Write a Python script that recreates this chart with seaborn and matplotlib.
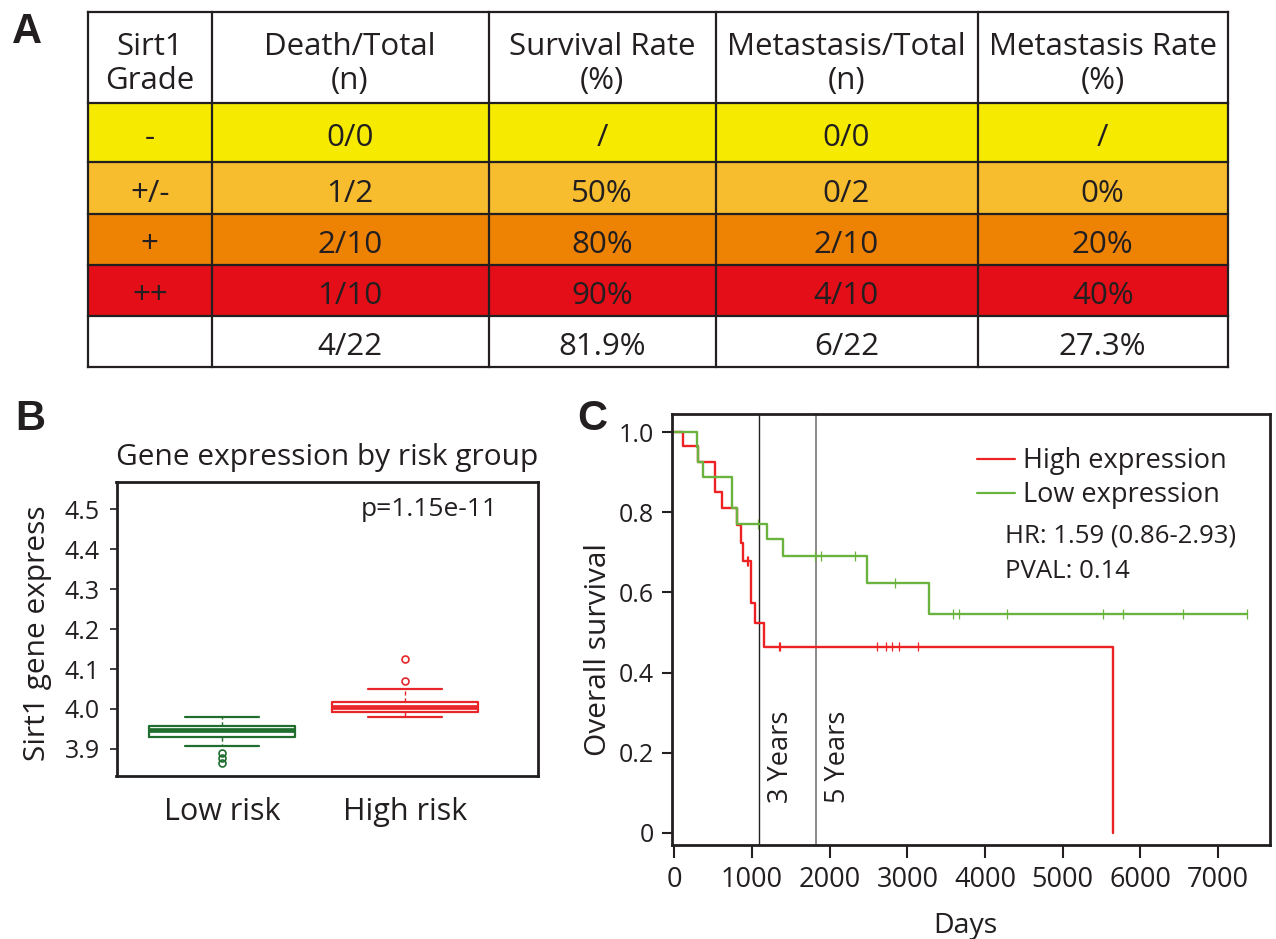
import numpy as np
import pandas as pd
import matplotlib
matplotlib.use("Agg")
import matplotlib.pyplot as plt
from matplotlib.patches import Rectangle
import seaborn as sns

# ---------------- Panel A: table data ----------------
header_line1 = ["Sirt1", "Death/Total", "Survival Rate", "Metastasis/Total", "Metastasis Rate"]
header_line2 = ["Grade", "(n)", "(%)", "(n)", "(%)"]
grade = ["-", "+/-", "+", "++", ""]
death_total = ["0/0", "1/2", "2/10", "1/10", "4/22"]
survival_rate = ["/", "50%", "80%", "90%", "81.9%"]
metastasis_total = ["0/0", "0/2", "2/10", "4/10", "6/22"]
metastasis_rate = ["/", "0%", "20%", "40%", "27.3%"]
row_colors = ["#f5ea00", "#f8bd2e", "#ee8203", "#e30e17", "#ffffff"]

# ---------------- Panel B: box plot summary ----------------
box_groups = ["Low risk", "High risk"]
box_q1 = [3.930, 3.992]
box_med = [3.947, 4.005]
box_q3 = [3.958, 4.018]
box_whislo = [3.908, 3.980]
box_whishi = [3.980, 4.050]
fliers_low_risk = [3.889, 3.877, 3.864]
fliers_high_risk = [4.070, 4.125]
box_colors = ["#1f6e2e", "#e8262a"]
p_text = "p=1.15e-11"

# ---------------- Panel C: Kaplan-Meier ----------------
high_times = [0, 108, 309, 524, 618, 803, 858, 880, 983, 1039, 1158, 5646]
high_surv = [1.0, 0.966, 0.926, 0.851, 0.812, 0.769, 0.723, 0.678, 0.573, 0.523, 0.465, 0.0]
low_times = [0, 292, 309, 373, 739, 803, 1189, 1403, 2476, 3282, 7367]
low_surv = [1.0, 0.963, 0.926, 0.888, 0.812, 0.772, 0.733, 0.692, 0.623, 0.546, 0.546]
high_censor = [930, 946, 1344, 1360, 2605, 2721, 2806, 2892, 3140]
low_censor = [1073, 1811, 1884, 2326, 2840, 3583, 3668, 4280, 5513, 5780, 6551, 7367]
km_labels = ["High expression", "Low expression"]
km_colors = ["#ee2222", "#6ab33e"]
year_marks = [1095, 1825]
year_labels = ["3 Years", "5 Years"]
hr_text = "HR: 1.59 (0.86-2.93)"
pval_text = "PVAL: 0.14"

# ---------------- style ----------------
sns.set_theme(style="white")
plt.rcParams["font.family"] = ["Open Sans", "DejaVu Sans"]
TXT = "#231f20"
plt.rcParams["text.color"] = TXT
plt.rcParams["axes.labelcolor"] = TXT
plt.rcParams["xtick.color"] = TXT
plt.rcParams["ytick.color"] = TXT

W, H = 1276, 939
fig = plt.figure(figsize=(W / 100, H / 100), dpi=100)

def ax_rect(left, top, right, bottom):
    return [left / W, 1 - bottom / H, (right - left) / W, (bottom - top) / H]

# ---------------- Panel B ----------------
axB = fig.add_axes(ax_rect(116.5, 482, 537.6, 775.7))
stats = []
fliers = [fliers_low_risk, fliers_high_risk]
for k in range(2):
    stats.append(dict(label=box_groups[k], q1=box_q1[k], med=box_med[k], q3=box_q3[k],
                      whislo=box_whislo[k], whishi=box_whishi[k], fliers=fliers[k]))
for k in range(2):
    c = box_colors[k]
    axB.bxp([stats[k]], positions=[k + 1], widths=0.8, showfliers=True,
            boxprops=dict(color=c, lw=1.6),
            medianprops=dict(color=c, lw=3.4),
            whiskerprops=dict(color=c, lw=1.0, linestyle=(0, (3, 2))),
            capprops=dict(color=c, lw=1.6),
            flierprops=dict(marker="o", markersize=5, markerfacecolor="none",
                            markeredgecolor=c, markeredgewidth=1.2))
# caps half of box width (R style)
for line in axB.lines:
    xd = line.get_xdata()
    if len(xd) == 2 and xd[0] != xd[1]:
        yd = line.get_ydata()
        if yd[0] in box_whislo or yd[0] in box_whishi:
            xm = (xd[0] + xd[1]) / 2
            line.set_xdata([xm - 0.2, xm + 0.2])
axB.set_xlim(0.4235, 2.725)
axB.set_ylim(3.833, 4.568)
axB.set_yticks([3.9, 4.0, 4.1, 4.2, 4.3, 4.4, 4.5])
axB.set_yticklabels(["3.9", "4.0", "4.1", "4.2", "4.3", "4.4", "4.5"])
axB.set_xticks([1, 2])
axB.set_xticklabels(box_groups)
axB.tick_params(axis="y", labelsize=18, length=5, width=1.2, pad=7, left=True, direction="out")
axB.tick_params(axis="x", labelsize=22, length=0, pad=15)
for s in axB.spines.values():
    s.set_color(TXT)
    s.set_linewidth(2)
axB.text(0.58, 0.905, p_text, transform=axB.transAxes, fontsize=19, ha="left", va="center")

# ---------------- Panel C ----------------
axC = fig.add_axes(ax_rect(672, 414, 1270, 845))
km = pd.concat([
    pd.DataFrame({"Days": high_times, "Survival": high_surv, "Group": km_labels[0]}),
    pd.DataFrame({"Days": low_times, "Survival": low_surv, "Group": km_labels[1]}),
])
sns.lineplot(data=km, x="Days", y="Survival", hue="Group", palette=km_colors,
             drawstyle="steps-post", estimator=None, sort=False, lw=1.7, ax=axC,
             legend=False)

def step_value(times, surv, t):
    idx = np.searchsorted(times, t, side="right") - 1
    return np.array(surv)[idx]

cens = pd.concat([
    pd.DataFrame({"Days": high_censor, "Survival": step_value(high_times, high_surv, high_censor),
                  "Group": km_labels[0]}),
    pd.DataFrame({"Days": low_censor, "Survival": step_value(low_times, low_surv, low_censor),
                  "Group": km_labels[1]}),
])
sns.scatterplot(data=cens, x="Days", y="Survival", hue="Group", palette=km_colors,
                marker="|", s=50, linewidth=0.9, ax=axC, legend=False)

axC.axvline(year_marks[0], color="#222222", lw=1.0, zorder=0.5)
axC.axvline(year_marks[1], color="#777777", lw=1.2, zorder=0.5)
axC.text(1370, 0.19, year_labels[0], rotation=90, fontsize=19.5, ha="center", va="center")
axC.text(2105, 0.19, year_labels[1], rotation=90, fontsize=19.5, ha="center", va="center")

axC.set_xlim(-30, 7667)
axC.set_ylim(-0.031, 1.046)
axC.set_xticks([0, 1000, 2000, 3000, 4000, 5000, 6000, 7000])
axC.set_yticks([0, 0.2, 0.4, 0.6, 0.8, 1.0])
axC.set_yticklabels(["0", "0.2", "0.4", "0.6", "0.8", "1.0"])
axC.tick_params(axis="y", labelsize=18, length=7, width=1.5, pad=6, left=True, direction="out")
axC.tick_params(axis="x", labelsize=19.5, length=9, width=1.5, pad=6, bottom=True, direction="out")
axC.set_xlabel("")
axC.set_ylabel("")
for s in axC.spines.values():
    s.set_color(TXT)
    s.set_linewidth(2)

# overlay axes in pixel coordinates for table, labels and legend
ov = fig.add_axes([0, 0, 1, 1])
ov.set_xlim(0, W)
ov.set_ylim(H, 0)
ov.axis("off")
ov.set_zorder(10)

for letter, (lx, ly) in zip(["A", "B", "C"], [(12, 43), (15, 430), (577, 430)]):
    ov.text(lx, ly, letter, fontsize=30, fontweight="bold", family="Liberation Sans",
            va="baseline", ha="left", color=TXT)

# ---- table
col_edges = [88, 211.5, 488.5, 715.5, 977.5, 1228]
row_edges = [12.3, 103.3, 162.3, 213.7, 265, 316, 366.7]
tfs = 22.5
for i, c in enumerate(row_colors):
    y0, y1 = row_edges[i + 1], row_edges[i + 2]
    ov.add_patch(Rectangle((col_edges[0], y0), col_edges[-1] - col_edges[0], y1 - y0,
                           facecolor=c, edgecolor="none", zorder=1))
for y in row_edges:
    ov.plot([col_edges[0], col_edges[-1]], [y, y], color=TXT, lw=1.6, zorder=3,
            solid_capstyle="projecting")
for x in col_edges:
    ov.plot([x, x], [row_edges[0], row_edges[-1]], color=TXT, lw=1.6, zorder=3,
            solid_capstyle="projecting")
centers_x = [(col_edges[j] + col_edges[j + 1]) / 2 for j in range(5)]
for j in range(5):
    ov.text(centers_x[j], 55, header_line1[j], fontsize=tfs, ha="center", va="baseline", zorder=4)
    ov.text(centers_x[j], 89, header_line2[j], fontsize=tfs, ha="center", va="baseline", zorder=4)
columns = [grade, death_total, survival_rate, metastasis_total, metastasis_rate]
for i in range(5):
    yc = (row_edges[i + 1] + row_edges[i + 2]) / 2
    for j in range(5):
        ov.text(centers_x[j], yc + 13.5, columns[j][i], fontsize=tfs, ha="center",
                va="baseline", zorder=4)

# panel B titles
ov.text(327, 458, "Gene expression by risk group", fontsize=21.5, ha="center", va="center")
ov.text(38, 633, "Sirt1 gene express", fontsize=21.5, ha="center", va="center", rotation=90)

# panel C labels
ov.text(965, 933, "Days", fontsize=20.5, ha="center", va="baseline")
ov.text(598, 649, "Overall survival", fontsize=21.5, ha="center", va="center", rotation=90)

# legend (manual, like the original)
for k, yy in enumerate([459.3, 493]):
    ov.plot([977, 1015], [yy, yy], color=km_colors[k], lw=1.6)
    ov.text(1023, yy + 2, km_labels[k], fontsize=19.5, ha="left", va="center")
ov.text(1005, 536, hr_text, fontsize=18.5, ha="left", va="center")
ov.text(1005, 572, pval_text, fontsize=18.5, ha="left", va="center")

fig.savefig("out.png", dpi=100)
